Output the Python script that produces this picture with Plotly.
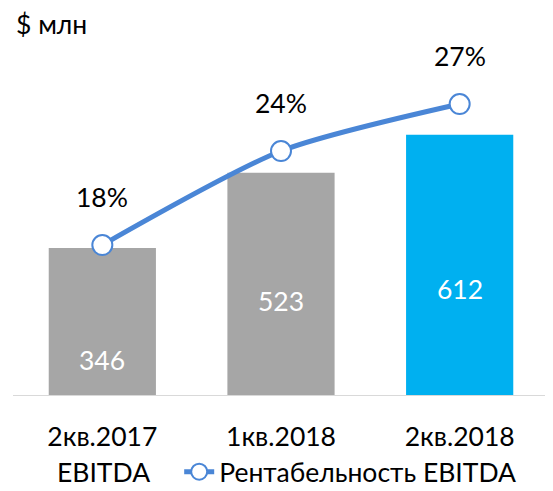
import plotly.graph_objects as go

categories = ["2кв.2017", "1кв.2018", "2кв.2018"]
ebitda = [346, 523, 612]
margin_pct = [18, 24, 27]
bar_colors = ["#A6A6A6", "#A6A6A6", "#00B0F0"]
bar_label_shift = [35, 94, 106]

FONT = "Lato"
FS = 26.5
LINE_COLOR = "#4A86D6"

W, H = 545, 483  # page body has an 8px margin
PL, PR, PT, PB = 4.5, 3.5, 52, 96
PW = W - PL - PR
PH = H - PT - PB

fig = go.Figure()
fig.add_trace(go.Bar(
    x=categories, y=ebitda, name="EBITDA", marker=dict(color=bar_colors, line=dict(width=0)),
    width=0.6, showlegend=False, hoverinfo="skip"))
fig.add_trace(go.Scatter(
    x=categories, y=margin_pct, name="Рентабельность EBITDA", yaxis="y2",
    mode="lines+markers", line=dict(color=LINE_COLOR, width=5, shape="spline", smoothing=0.7),
    marker=dict(size=20, color="white", line=dict(color=LINE_COLOR, width=2)),
    hoverinfo="skip"))

for c, v, s in zip(categories, ebitda, bar_label_shift):
    fig.add_annotation(x=c, y=0, xref="x", yref="y", text=str(v), showarrow=False,
                       yanchor="middle", yshift=s, font=dict(family=FONT, size=FS, color="white"))
for c, v in zip(categories, margin_pct):
    fig.add_annotation(x=c, y=v, xref="x", yref="y2", text=f"{v}%", showarrow=False,
                       yanchor="middle", yshift=48, font=dict(family=FONT, size=FS, color="black"))

leg_y = (PT + PH - 464) / PH
fig.add_annotation(x=(95 - PL) / PW, y=leg_y, xref="paper", yref="paper",
                   text="EBITDA", showarrow=False, xanchor="center", yanchor="middle",
                   font=dict(family=FONT, size=FS, color="black"))

fig.update_layout(
    width=W, height=H,
    margin=dict(l=PL, r=PR, t=PT, b=PB, autoexpand=False),
    paper_bgcolor="white", plot_bgcolor="white",
    font=dict(family=FONT, size=FS, color="black"),
    title=dict(text="$ млн", x=8 / W, xanchor="left", xref="container",
               y=1 - 17 / H, yanchor="middle", font=dict(family=FONT, size=FS, color="black")),
    xaxis=dict(showline=True, linecolor="#D9D9D9", linewidth=1, showgrid=False,
               ticks="outside", ticklen=18, tickcolor="rgba(0,0,0,0)", automargin=False,
               tickfont=dict(family=FONT, size=FS, color="black"), range=[-0.5, 2.5]),
    yaxis=dict(visible=False, range=[0, 788], showgrid=False, zeroline=False, automargin=False),
    yaxis2=dict(visible=False, overlaying="y", side="right", range=[8.43, 29.81],
                showgrid=False, zeroline=False, automargin=False),
    legend=dict(orientation="h", x=(171 - PL) / PW, xanchor="left",
                y=leg_y, yanchor="middle",
                font=dict(family=FONT, size=FS, color="black"), bgcolor="rgba(0,0,0,0)"),
    showlegend=True,
)

fig.write_html("out.html")
